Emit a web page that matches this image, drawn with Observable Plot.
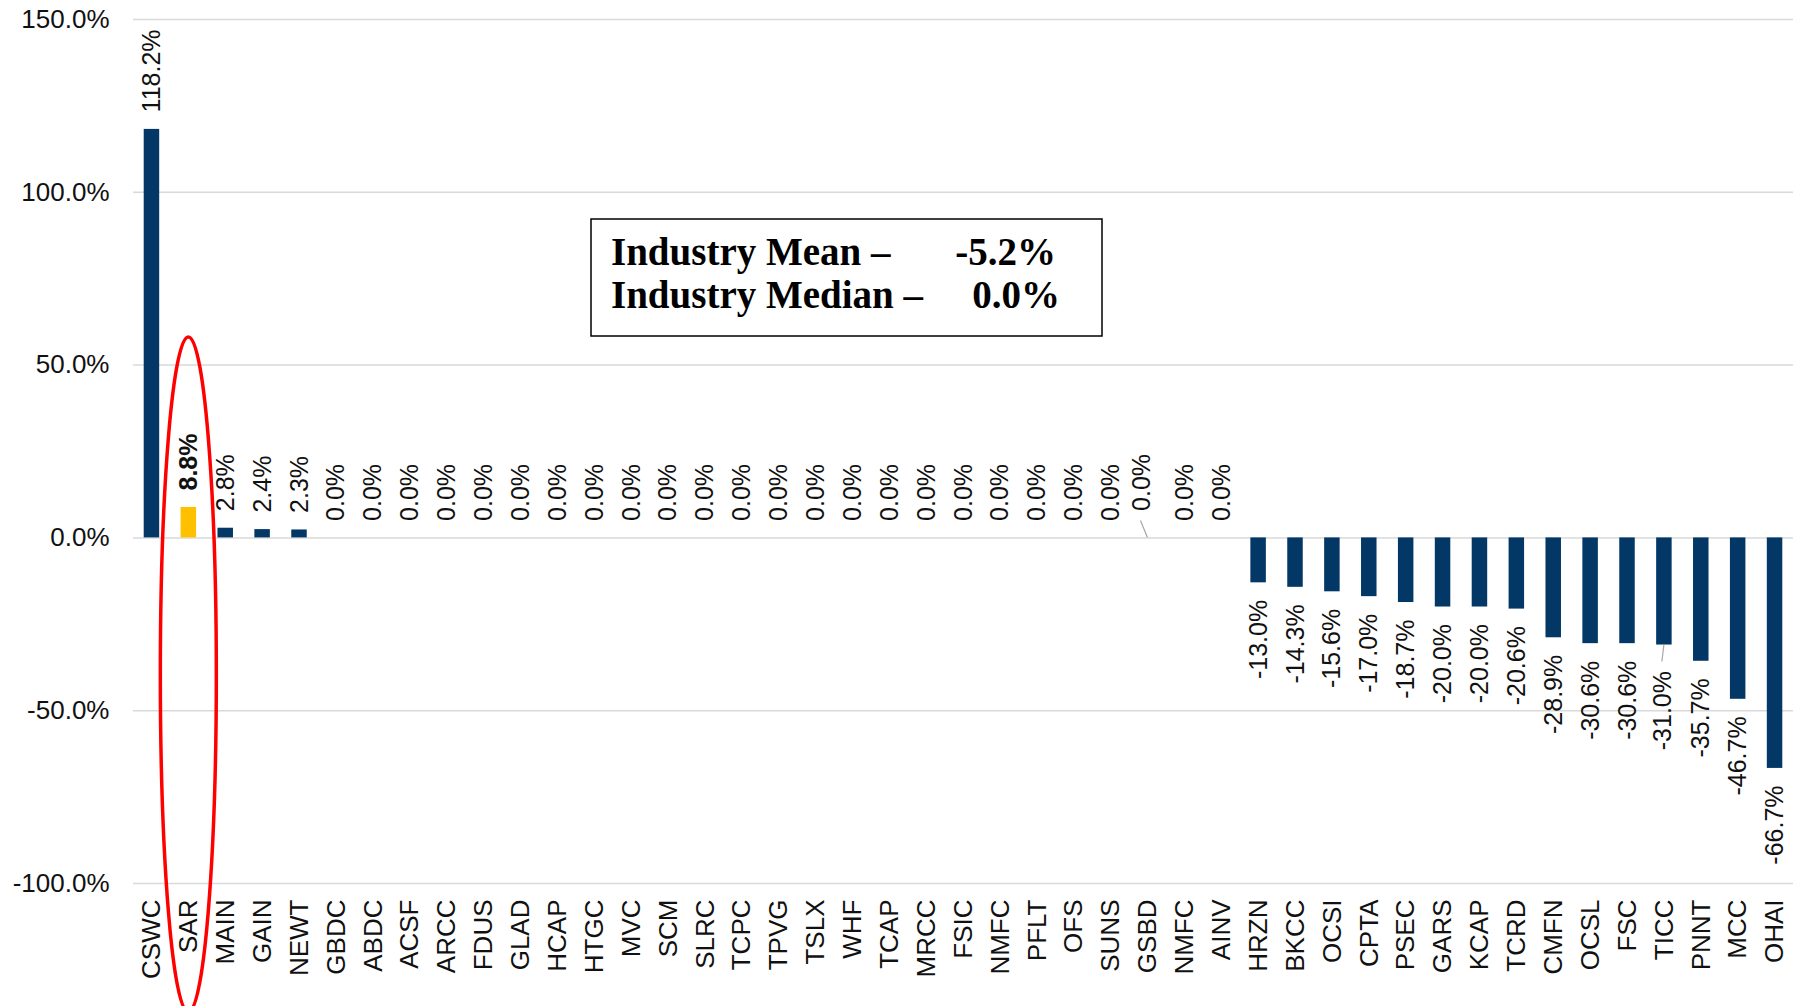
<!DOCTYPE html>
<html><head><meta charset="utf-8">
<script src="https://cdn.jsdelivr.net/npm/d3@7"></script>
<script src="https://cdn.jsdelivr.net/npm/@observablehq/plot@0.6"></script>
<style>body{margin:0;background:#fff}#chart{width:1800px;height:1006px}</style>
</head><body><div id="chart"></div>
<script>
const tickers = ["CSWC","SAR","MAIN","GAIN","NEWT","GBDC","ABDC","ACSF","ARCC","FDUS","GLAD","HCAP","HTGC","MVC","SCM","SLRC","TCPC","TPVG","TSLX","WHF","TCAP","MRCC","FSIC","NMFC","PFLT","OFS","SUNS","GSBD","NMFC","AINV","HRZN","BKCC","OCSI","CPTA","PSEC","GARS","KCAP","TCRD","CMFN","OCSL","FSC","TICC","PNNT","MCC","OHAI"];
const values = [118.2,8.8,2.8,2.4,2.3,0,0,0,0,0,0,0,0,0,0,0,0,0,0,0,0,0,0,0,0,0,0,0,0,0,-13.0,-14.3,-15.6,-17.0,-18.7,-20.0,-20.0,-20.6,-28.9,-30.6,-30.6,-31.0,-35.7,-46.7,-66.7];
const highlight = "SAR";
const nudgedUp = "GSBD";     // label lifted with leader line
const nudgedDown = "TICC";   // label pushed down with leader line
const yTicks = [-100,-50,0,50,100,150];
const industryMean = -5.2;
const industryMedian = 0.0;

const NAVY = "#033866", GOLD = "#FFC000";
const data = tickers.map((t,i)=>({i, t, v: values[i]}));
const fmt = v => v.toFixed(1) + "%";
const W = 1800, H = 1006;
const lbl = {rotate: -90, lineAnchor: "middle", fontSize: 25, fill: "#111"};

const chart = Plot.plot({
  width: W, height: H,
  marginTop: 19, marginBottom: 123, marginLeft: 133, marginRight: 7,
  style: {fontFamily: "'Liberation Sans', Arial, sans-serif", fontSize: "26px", color: "#111", background: "#fff"},
  x: {type: "band", domain: d3.range(tickers.length), paddingInner: 0.58, paddingOuter: 0.29, label: null},
  y: {domain: [-100, 150], label: null},
  color: {type: "identity"},
  marks: [
    Plot.gridY(yTicks, {stroke: "#d9d9d9", strokeOpacity: 1, strokeWidth: 1.5}),
    Plot.barY(data, {x: "i", y: "v", fill: d => d.t === highlight ? GOLD : NAVY}),
    Plot.axisY(yTicks, {tickFormat: fmt, tickSize: 0, tickPadding: 24, fontSize: 26, fill: "#111", label: null}),
    Plot.axisX({tickRotate: -90, tickSize: 0, tickPadding: 16, textAnchor: "end", tickFormat: i => tickers[i], fontSize: 26, fill: "#111", label: null}),
    Plot.text(data.filter((d, k) => d.v >= 0 && d.t !== highlight && !(d.t === nudgedUp && d.i === tickers.indexOf(nudgedUp))), {x: "i", y: "v", text: d => fmt(d.v), textAnchor: "start", dy: -17, ...lbl}),
    Plot.text(data.filter(d => d.i === tickers.indexOf(nudgedUp)), {x: "i", y: "v", text: d => fmt(d.v), textAnchor: "start", dy: -27, dx: -6, ...lbl}),
    Plot.text(data.filter(d => d.t === highlight), {x: "i", y: "v", text: d => fmt(d.v), textAnchor: "start", dy: -17, fontWeight: "bold", ...lbl}),
    Plot.text(data.filter(d => d.v < 0 && d.t !== nudgedDown), {x: "i", y: "v", text: d => fmt(d.v), textAnchor: "end", dy: 17, ...lbl}),
    Plot.text(data.filter(d => d.t === nudgedDown), {x: "i", y: "v", text: d => fmt(d.v), textAnchor: "end", dy: 26, dx: -1, ...lbl})
  ]
});
document.getElementById("chart").appendChild(chart);

// Annotations
const svg = d3.select(chart);
const xs = chart.scale("x"), ys = chart.scale("y");
const center = i => xs.apply(i) + xs.bandwidth / 2;

// leader lines
const gi = tickers.indexOf(nudgedUp), ti = tickers.indexOf(nudgedDown);
svg.append("line").attr("x1", center(gi)).attr("y1", ys.apply(values[gi]))
  .attr("x2", center(gi) - 7).attr("y2", ys.apply(values[gi]) - 17)
  .attr("stroke", "#a6a6a6").attr("stroke-width", 1.2);
svg.append("line").attr("x1", center(ti)).attr("y1", ys.apply(values[ti]))
  .attr("x2", center(ti) - 2).attr("y2", ys.apply(values[ti]) + 17)
  .attr("stroke", "#a6a6a6").attr("stroke-width", 1.2);

// highlight ellipse
const hi = tickers.indexOf(highlight);
const eTop = ys.apply(58);
const eBottom = H + 6;
svg.append("ellipse")
  .attr("cx", center(hi)).attr("cy", (eTop + eBottom) / 2)
  .attr("rx", 28).attr("ry", (eBottom - eTop) / 2)
  .attr("fill", "none").attr("stroke", "#ff0000").attr("stroke-width", 3.5);

// statistics box
const box = svg.append("g").attr("font-family", "'Liberation Serif', 'Times New Roman', serif").attr("font-weight", "bold").attr("font-size", 39).attr("fill", "#000");
box.append("rect").attr("x", 591).attr("y", 219).attr("width", 511).attr("height", 117)
  .attr("fill", "#fff").attr("stroke", "#000").attr("stroke-width", 1.5);
box.append("text").attr("x", 611).attr("y", 265).attr("text-anchor", "start").text("Industry Mean \u2013");
box.append("text").attr("x", 1056).attr("y", 265).attr("text-anchor", "end").text(fmt(industryMean));
box.append("text").attr("x", 611).attr("y", 308).attr("text-anchor", "start").text("Industry Median \u2013");
box.append("text").attr("x", 1060).attr("y", 308).attr("text-anchor", "end").text(fmt(industryMedian));
</script>
</body></html>
